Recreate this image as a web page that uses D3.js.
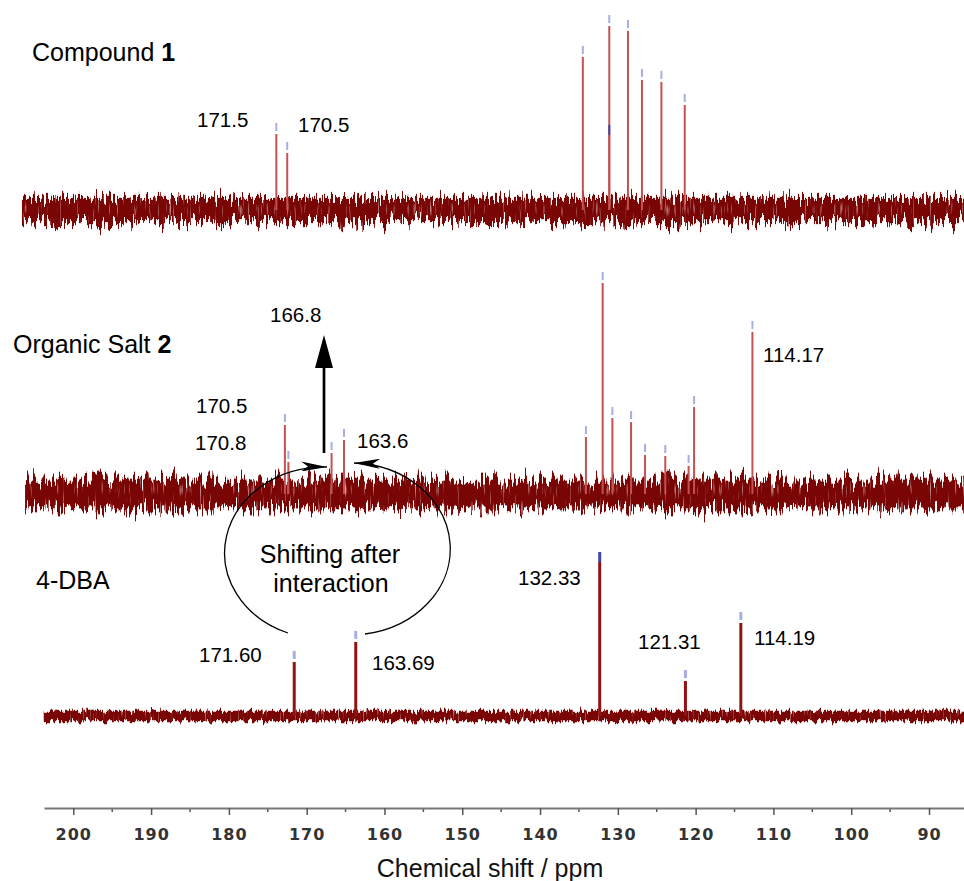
<!DOCTYPE html>
<html>
<head>
<meta charset="utf-8">
<script src="https://cdn.jsdelivr.net/npm/d3@7"></script>
<style>
  html, body { margin: 0; padding: 0; background: #fff; }
  svg { display: block; font-family: "Liberation Sans", Arial, sans-serif; }
</style>
</head>
<body>
<svg id="chart" width="964" height="881"></svg>
<script>
// axis ticks (ppm)
const majorTicks = [200, 190, 180, 170, 160, 150, 140, 130, 120, 110, 100, 90];
const minorTicks = [195, 185, 175, 165, 155, 145, 135, 125, 115, 105, 95, 85];

// peak positions (ppm, read on the axis) and relative heights (tallest = 100)
const compoundShift     = [173.9, 172.5, 134.5, 131.1, 131.1, 128.7, 126.9, 124.4, 121.4];
const compoundIntensity = [41.3, 31.0, 83.2, 100, 40.8, 97.3, 70.7, 69.6, 57.1];
const compoundMarker    = ["l", "l", "l", "l", "d", "l", "l", "l", "l"];

const saltShift     = [172.8, 172.35, 166.8, 165.2, 134.1, 131.95, 130.7, 128.3, 126.5, 123.9, 120.9, 120.2, 112.7];
const saltIntensity = [32.7, 15.2, 19.4, 25.6, 27.0, 100, 36.0, 34.1, 18.5, 18.0, 13.3, 41.2, 76.8];
const saltMarker    = ["l", "l", "l", "l", "l", "l", "l", "l", "l", "l", "l", "l", "l"];

const dbaShift     = [171.60, 163.69, 132.33, 121.31, 114.19];
const dbaIntensity = [35.1, 48.1, 100, 22.7, 60.4];
const dbaMarker    = ["l", "l", "d", "l", "l"];

// spectrum range and baseline noise (± relative units)
const spectrumStart = [206.6, 206.2, 203.8];
const spectrumEnd = 85.5;
const noiseLevel = [6.6, 6.8, 3.4];

const svg = d3.select("#chart");
const x = d3.scaleLinear().domain([200, 90]).range([73.3, 929]);

const panels = [
  { shift: compoundShift, inten: compoundIntensity, marker: compoundMarker, base: 210, top: 26,
    start: spectrumStart[0], noise: noiseLevel[0], jitter: 34, peakColor: "#c45252", peakWidth: 2, markW: 2 },
  { shift: saltShift, inten: saltIntensity, marker: saltMarker, base: 494, top: 283,
    start: spectrumStart[1], noise: noiseLevel[1], jitter: 38, peakColor: "#c45252", peakWidth: 2, markW: 2 },
  { shift: dbaShift, inten: dbaIntensity, marker: dbaMarker, base: 716, top: 562,
    start: spectrumStart[2], noise: noiseLevel[2], jitter: 12, peakColor: "#8f1414", peakWidth: 3, markW: 3 }
];

const defs = svg.append("defs");

// jagged baseline texture
panels.forEach((p, i) => {
  const f = defs.append("filter")
    .attr("id", "jit" + i)
    .attr("x", "-1%").attr("y", "-200%")
    .attr("width", "102%").attr("height", "500%")
    .attr("color-interpolation-filters", "sRGB");
  f.append("feTurbulence").attr("type", "fractalNoise")
    .attr("baseFrequency", "0.45 0.02").attr("numOctaves", 2).attr("seed", 3 + i * 5).attr("result", "t");
  f.append("feColorMatrix").attr("in", "t").attr("type", "matrix")
    .attr("values", "1 0 0 0 0  0 0 0 0 0.5  0 0 0 0 0  0 0 0 0 1").attr("result", "d");
  f.append("feDisplacementMap").attr("in", "SourceGraphic").attr("in2", "d")
    .attr("scale", p.jitter).attr("xChannelSelector", "G").attr("yChannelSelector", "R").attr("result", "disp");
  f.append("feTurbulence").attr("type", "fractalNoise")
    .attr("baseFrequency", "0.6 0.05").attr("numOctaves", 1).attr("seed", 11 + i).attr("result", "t2");
  f.append("feColorMatrix").attr("in", "t2").attr("type", "matrix")
    .attr("values", "0 0 0 0 0  0 0 0 0 0  0 0 0 0 0  3 0 0 0 -0.15").attr("result", "a");
  f.append("feComposite").attr("in", "disp").attr("in2", "a").attr("operator", "in");
});

// arrowhead for curved arrows
defs.append("marker")
  .attr("id", "head")
  .attr("markerUnits", "userSpaceOnUse")
  .attr("markerWidth", 28).attr("markerHeight", 10)
  .attr("refX", 26).attr("refY", 5)
  .attr("orient", "auto")
  .append("path")
  .attr("d", "M0,0 L26,5 L0,10 L7,5 Z")
  .attr("fill", "#000");

panels.forEach((p, i) => {
  const y = d3.scaleLinear().domain([0, 100]).range([p.base, p.top]);
  const g = svg.append("g");

  g.append("rect")
    .attr("x", x(p.start))
    .attr("y", y(p.noise))
    .attr("width", x(spectrumEnd) - x(p.start))
    .attr("height", y(-p.noise) - y(p.noise))
    .attr("fill", "#7a0505")
    .attr("filter", `url(#jit${i})`);

  const peaks = p.shift.map((s, k) => ({ s, v: p.inten[k], m: p.marker[k] }));

  g.selectAll("line.peak")
    .data(peaks)
    .enter()
    .append("line")
    .attr("class", "peak")
    .attr("x1", d => x(d.s))
    .attr("x2", d => x(d.s))
    .attr("y1", y(0))
    .attr("y2", d => y(d.v))
    .attr("stroke", p.peakColor)
    .attr("stroke-width", p.peakWidth);

  g.selectAll("rect.mark")
    .data(peaks)
    .enter()
    .append("rect")
    .attr("class", "mark")
    .attr("x", d => x(d.s) - p.markW / 2)
    .attr("y", d => y(d.v) - (d.m === "d" ? 10 : 11))
    .attr("width", p.markW)
    .attr("height", d => d.m === "d" ? 10 : 8)
    .attr("fill", d => d.m === "d" ? "#3a47ab" : "#a7aee6");
});

// spectrum names
const names = [
  { t: "Compound ", b: "1", x: 32, y: 61 },
  { t: "Organic Salt ", b: "2", x: 13, y: 353 },
  { t: "4-DBA", b: "", x: 36, y: 589 }
];
names.forEach(n => {
  const t = svg.append("text").attr("x", n.x).attr("y", n.y)
    .attr("font-size", 25).attr("fill", "#000");
  t.append("tspan").text(n.t);
  if (n.b) t.append("tspan").attr("font-weight", "bold").text(n.b);
});

// peak labels
const peakLabels = [
  { t: "171.5", x: 197, y: 127 },
  { t: "170.5", x: 298, y: 132 },
  { t: "170.5", x: 196, y: 413 },
  { t: "170.8", x: 195, y: 450 },
  { t: "166.8", x: 270, y: 322 },
  { t: "163.6", x: 357, y: 448 },
  { t: "114.17", x: 763, y: 362 },
  { t: "171.60", x: 199, y: 662 },
  { t: "163.69", x: 372, y: 670 },
  { t: "132.33", x: 518, y: 585 },
  { t: "121.31", x: 638, y: 649 },
  { t: "114.19", x: 754, y: 645 }
];
svg.append("g")
  .selectAll("text")
  .data(peakLabels)
  .enter()
  .append("text")
  .attr("x", d => d.x)
  .attr("y", d => d.y)
  .attr("font-size", 20.5)
  .attr("fill", "#000")
  .text(d => d.t);

// vertical arrow (166.8)
svg.append("line")
  .attr("x1", 324).attr("x2", 324)
  .attr("y1", 453).attr("y2", 362)
  .attr("stroke", "#000").attr("stroke-width", 2.7);
svg.append("path")
  .attr("d", "M324,335 L333,368 L315,368 Z")
  .attr("fill", "#000");

// curved arrows around the note
svg.append("path")
  .attr("d", "M288,633 A100 86 0 0 1 327,467")
  .attr("fill", "none").attr("stroke", "#000").attr("stroke-width", 1.3)
  .attr("marker-end", "url(#head)");
svg.append("path")
  .attr("d", "M365,634 A100 86 0 0 0 354,463")
  .attr("fill", "none").attr("stroke", "#000").attr("stroke-width", 1.3)
  .attr("marker-end", "url(#head)");

const note = svg.append("text").attr("font-size", 25).attr("text-anchor", "middle").attr("fill", "#000");
note.append("tspan").attr("x", 330).attr("y", 563).text("Shifting after");
note.append("tspan").attr("x", 331).attr("y", 592).text("interaction");

// x axis
const xAxisScale = x.copy().domain([x.invert(44), x.invert(964)]).range([44, 964]);
const axisG = svg.append("g").attr("transform", "translate(0,808)");

axisG.append("g")
  .selectAll("line")
  .data(minorTicks)
  .enter()
  .append("line")
  .attr("x1", d => x(d)).attr("x2", d => x(d))
  .attr("y1", 0).attr("y2", 4)
  .attr("stroke", "#555").attr("stroke-width", 1.5);

axisG.call(d3.axisBottom(xAxisScale).tickValues(majorTicks).tickSize(7).tickSizeOuter(0));
axisG.select(".domain").attr("stroke", "#777").attr("stroke-width", 2);
axisG.selectAll(".tick line").attr("stroke", "#555").attr("stroke-width", 1.5);
axisG.selectAll(".tick text")
  .attr("dy", null)
  .attr("y", 32)
  .attr("font-family", "'DejaVu Sans', Verdana, sans-serif")
  .attr("font-size", 16)
  .attr("font-weight", "bold")
  .attr("letter-spacing", 1)
  .attr("fill", "#333");

svg.append("text")
  .attr("x", 490)
  .attr("y", 877)
  .attr("text-anchor", "middle")
  .attr("font-size", 25)
  .attr("fill", "#111")
  .text("Chemical shift / ppm");
</script>
</body>
</html>
